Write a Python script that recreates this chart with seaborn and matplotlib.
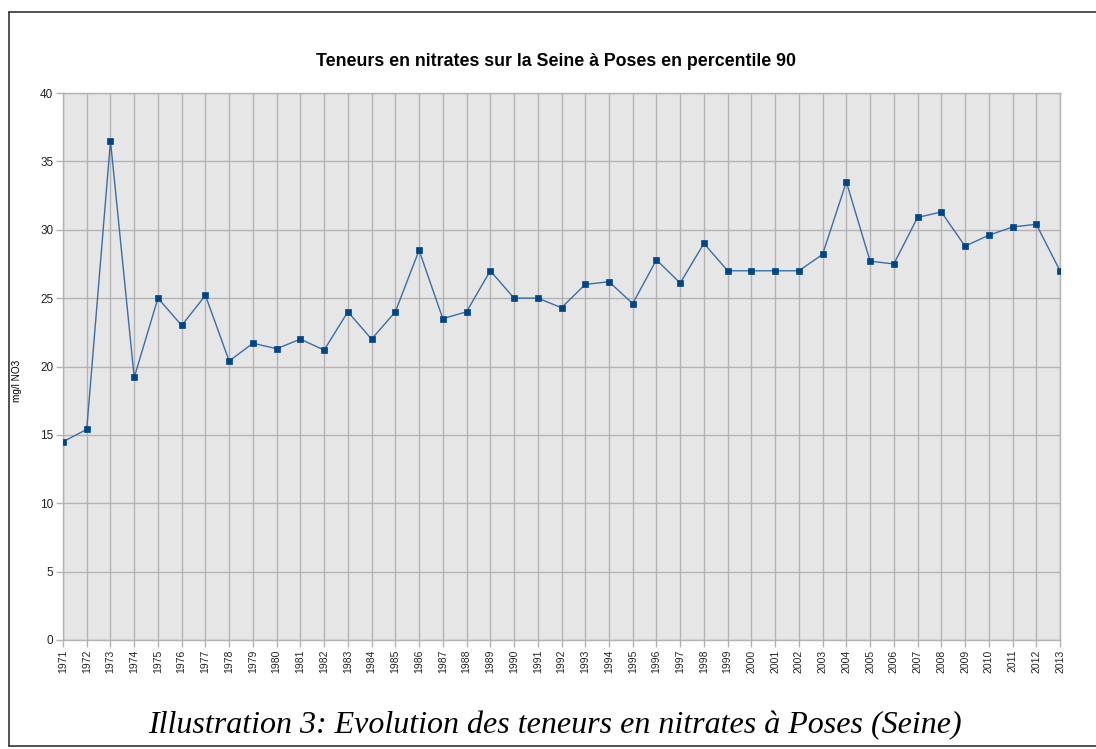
import matplotlib
matplotlib.use("Agg")
import matplotlib.pyplot as plt
import seaborn as sns
import pandas as pd
from matplotlib.lines import Line2D

years = list(range(1971, 2014))
values = [14.5, 15.4, 36.5, 19.2, 25.0, 23.0, 25.2, 20.4, 21.7, 21.3,
          22.0, 21.2, 24.0, 22.0, 24.0, 28.5, 23.5, 24.0, 27.0, 25.0,
          25.0, 24.3, 26.0, 26.2, 24.6, 27.8, 26.1, 29.0, 27.0, 27.0,
          27.0, 27.0, 28.2, 33.5, 27.7, 27.5, 30.9, 31.3, 28.8, 29.6,
          30.2, 30.4, 27.0]
yticks = [0, 5, 10, 15, 20, 25, 30, 35, 40]

title = "Teneurs en nitrates sur la Seine à Poses en percentile 90"
ylabel = "mg/l NO3"
caption = "Illustration 3: Evolution des teneurs en nitrates à Poses (Seine)"

df = pd.DataFrame({"year": years, "value": values})

sns.set_style("white")
plt.rcParams['font.family'] = ['Liberation Sans', 'DejaVu Sans']

fig = plt.figure(figsize=(10.96, 7.49), dpi=100)
ax = fig.add_axes([63/1096, 1 - 640/749, (1060-63)/1096, (640-93)/749])
ax.set_facecolor("#e6e6e6")

sns.lineplot(data=df, x="year", y="value", ax=ax, color="#3a6ea5", linewidth=1.0,
             marker="s", markersize=4.5, markerfacecolor="#004586",
             markeredgecolor="#004586", markeredgewidth=0.5, zorder=3)

ax.set_xlim(1971, 2013)
ax.set_ylim(0, 40)
ax.set_xticks(years)
ax.set_xticklabels([str(y) for y in years], rotation=90, fontsize=7.5, color="#222222")
ax.set_yticks(yticks)
ax.set_yticklabels([str(v) for v in yticks], fontsize=8.5, color="#222222")
ax.grid(True, color="#b3b3b3", linewidth=1.0, zorder=0)
ax.set_axisbelow(True)
ax.tick_params(axis="both", which="major", length=5, width=1, color="#b3b3b3",
               direction="out", pad=2, bottom=True, left=True)
for s in ax.spines.values():
    s.set_color("#b3b3b3")
    s.set_linewidth(1.0)
ax.set_xlabel("")
ax.set_ylabel("")

fig.text(17/1096, 1 - 381/749, ylabel, ha="center", va="center", rotation=90,
         fontsize=7.2, color="black")

fig.text(556/1096, 1 - 61/749, title, ha="center", va="center",
         fontsize=12.8, fontweight="bold", color="black")

fig.text(555/1096, 1 - 726/749, caption, ha="center", va="center",
         fontsize=23, style="italic", family=["Liberation Serif", "DejaVu Serif"],
         color="black")

# outer frame
fig.add_artist(Line2D([9/1096, 9/1096], [1 - 12/749, 1 - 746/749], transform=fig.transFigure,
                      color="#333333", linewidth=1.2))
fig.add_artist(Line2D([9/1096, 1.0], [1 - 12/749, 1 - 12/749], transform=fig.transFigure,
                      color="#333333", linewidth=1.2))
fig.add_artist(Line2D([9/1096, 1.0], [1 - 746/749, 1 - 746/749], transform=fig.transFigure,
                      color="#333333", linewidth=1.2))

fig.savefig("out.png", dpi=100)
